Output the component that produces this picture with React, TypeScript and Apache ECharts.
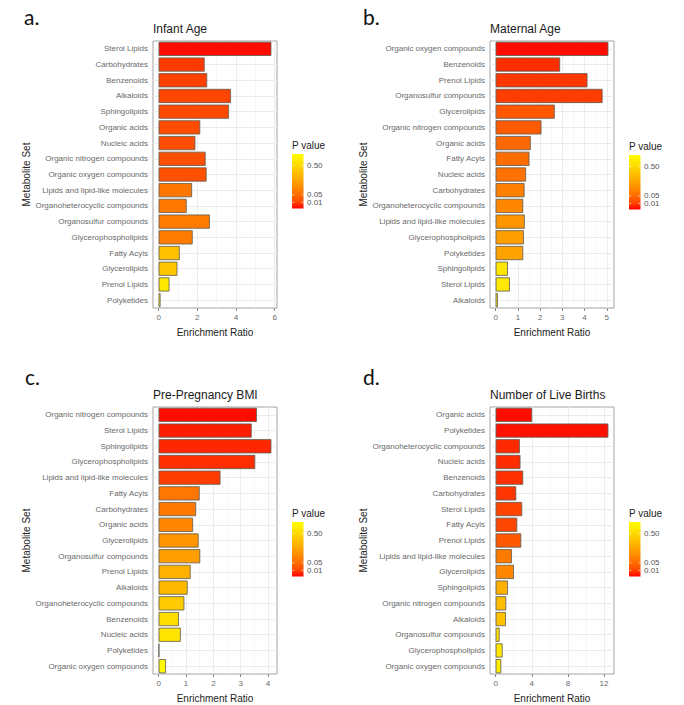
import React, { useEffect, useRef } from "react";
import * as echarts from "echarts";

// ---- Infant Age ----
const infantCats = [
  "Sterol Lipids", "Carbohydrates", "Benzenoids", "Alkaloids", "Sphingolipids",
  "Organic acids", "Nucleic acids", "Organic nitrogen compounds", "Organic oxygen compounds",
  "Lipids and lipid-like molecules", "Organoheterocyclic compounds", "Organosulfur compounds",
  "Glycerophospholipids", "Fatty Acyls", "Glycerolipids", "Prenol Lipids", "Polyketides",
];
const infantRatio = [5.83, 2.38, 2.51, 3.74, 3.64, 2.15, 1.9, 2.43, 2.48, 1.73, 1.45, 2.65, 1.76, 1.09, 0.97, 0.56, 0.1];
const infantP = [0.0003, 0.008, 0.0097, 0.0115, 0.0125, 0.0146, 0.0168, 0.018, 0.019, 0.072, 0.077, 0.082, 0.084, 0.348, 0.38, 0.62, 0.72];
const infantTicks = [0, 2, 4, 6];
const infantMinor = [1, 3, 5];

// ---- Maternal Age ----
const maternalCats = [
  "Organic oxygen compounds", "Benzenoids", "Prenol Lipids", "Organosulfur compounds", "Glycerolipids",
  "Organic nitrogen compounds", "Organic acids", "Fatty Acyls", "Nucleic acids", "Carbohydrates",
  "Organoheterocyclic compounds", "Lipids and lipid-like molecules", "Glycerophospholipids",
  "Polyketides", "Sphingolipids", "Sterol Lipids", "Alkaloids",
];
const maternalRatio = [5.07, 2.9, 4.13, 4.81, 2.66, 2.06, 1.58, 1.52, 1.37, 1.3, 1.24, 1.31, 1.27, 1.24, 0.55, 0.64, 0.1];
const maternalP = [0.0003, 0.005, 0.0072, 0.0088, 0.026, 0.029, 0.046, 0.054, 0.063, 0.092, 0.109, 0.155, 0.19, 0.21, 0.605, 0.62, 0.72];
const maternalTicks = [0, 1, 2, 3, 4, 5];
const maternalMinor = [0.5, 1.5, 2.5, 3.5, 4.5];

// ---- Pre-Pregnancy BMI ----
const bmiCats = [
  "Organic nitrogen compounds", "Sterol Lipids", "Sphingolipids", "Glycerophospholipids",
  "Lipids and lipid-like molecules", "Fatty Acyls", "Carbohydrates", "Organic acids", "Glycerolipids",
  "Organosulfur compounds", "Prenol Lipids", "Alkaloids", "Organoheterocyclic compounds",
  "Benzenoids", "Nucleic acids", "Polyketides", "Organic oxygen compounds",
];
const bmiRatio = [3.59, 3.4, 4.12, 3.53, 2.26, 1.5, 1.37, 1.26, 1.46, 1.52, 1.17, 1.06, 0.94, 0.74, 0.81, 0.02, 0.27];
const bmiP = [0.0003, 0.002, 0.0034, 0.005, 0.0088, 0.072, 0.077, 0.109, 0.155, 0.19, 0.27, 0.31, 0.41, 0.54, 0.58, 0.65, 0.75];
const bmiTicks = [0, 1, 2, 3, 4];
const bmiMinor = [0.5, 1.5, 2.5, 3.5];

// ---- Number of Live Births ----
const birthsCats = [
  "Organic acids", "Polyketides", "Organoheterocyclic compounds", "Nucleic acids", "Benzenoids",
  "Carbohydrates", "Sterol Lipids", "Fatty Acyls", "Prenol Lipids", "Lipids and lipid-like molecules",
  "Glycerolipids", "Sphingolipids", "Organic nitrogen compounds", "Alkaloids",
  "Organosulfur compounds", "Glycerophospholipids", "Organic oxygen compounds",
];
const birthsRatio = [4.04, 12.48, 2.68, 2.75, 3.05, 2.28, 2.94, 2.39, 2.83, 1.8, 2.02, 1.36, 1.17, 1.14, 0.44, 0.77, 0.62];
const birthsP = [0.0003, 0.0007, 0.0039, 0.0045, 0.0051, 0.0065, 0.0106, 0.0115, 0.026, 0.082, 0.109, 0.27, 0.33, 0.35, 0.56, 0.605, 0.65];
const birthsTicks = [0, 4, 8, 12];
const birthsMinor = [2, 6, 10];

// ---- P value colour bar ----
const legendTickValues = [0.5, 0.05, 0.01];
const legendTickLabels = ["0.50", "0.05", "0.01"];
const P_TOP = 0.8;
// red -> yellow, interpolated in Lab space
const P_COLORS = ["#ff0000", "#ff4900", "#ff6b00", "#ff8800", "#ffa100", "#ffba00", "#ffd100", "#ffe800", "#ffff00"];

const FONT = "'Liberation Sans', Arial, Helvetica, sans-serif";

const panels = [
  { title: "Infant Age", letter: "a.", cats: infantCats, ratio: infantRatio, p: infantP, ticks: infantTicks, minor: infantMinor,
    grid: { left: 153, top: 41, width: 124, height: 267 }, letterPos: [24, 27], legX: 292, legTop: 154 },
  { title: "Maternal Age", letter: "b.", cats: maternalCats, ratio: maternalRatio, p: maternalP, ticks: maternalTicks, minor: maternalMinor,
    grid: { left: 490, top: 41, width: 124, height: 267 }, letterPos: [363, 27], legX: 629, legTop: 155 },
  { title: "Pre-Pregnancy BMI", letter: "c.", cats: bmiCats, ratio: bmiRatio, p: bmiP, ticks: bmiTicks, minor: bmiMinor,
    grid: { left: 153, top: 407, width: 124, height: 267 }, letterPos: [25, 387], legX: 292, legTop: 522 },
  { title: "Number of Live Births", letter: "d.", cats: birthsCats, ratio: birthsRatio, p: birthsP, ticks: birthsTicks, minor: birthsMinor,
    grid: { left: 490, top: 407, width: 124, height: 267 }, letterPos: [363, 387], legX: 629, legTop: 522 },
];

const LEG_W = 11.5;
const LEG_H = 54.5;

function buildOption() {
  const grids: any[] = [];
  const xAxes: any[] = [];
  const yAxes: any[] = [];
  const series: any[] = [];
  const graphics: any[] = [];

  panels.forEach((pn, i) => {
    const maxV = Math.max(...pn.ratio);
    grids.push({
      ...pn.grid,
      show: true,
      backgroundColor: "#ffffff",
      borderColor: "#a3a3a3",
      borderWidth: 1,
    });
    xAxes.push({
      type: "value",
      gridIndex: i,
      min: -0.05 * maxV,
      max: 1.05 * maxV,
      axisLine: { show: false },
      splitLine: { show: false },
      axisTick: { show: true, customValues: pn.ticks, length: 3, lineStyle: { color: "#8a8a8a", width: 1 } },
      axisLabel: { customValues: pn.ticks, fontSize: 8, color: "#6a6a6a", margin: 5, fontFamily: FONT },
      name: "Enrichment Ratio",
      nameLocation: "middle",
      nameGap: 19,
      nameTextStyle: { fontSize: 10, color: "#222", fontFamily: FONT },
    });
    yAxes.push({
      type: "category",
      gridIndex: i,
      data: pn.cats,
      inverse: true,
      axisLine: { show: false },
      splitLine: { show: false },
      axisTick: { show: true, alignWithLabel: true, length: 3, lineStyle: { color: "#8a8a8a", width: 1 } },
      axisLabel: { interval: 0, fontSize: 8, color: "#6a6a6a", margin: 5, fontFamily: FONT },
      name: "Metabolite Set",
      nameLocation: "middle",
      nameGap: 122,
      nameTextStyle: { fontSize: 10, color: "#222", fontFamily: FONT },
    });
    series.push({
      type: "bar",
      xAxisIndex: i,
      yAxisIndex: i,
      z: 3,
      barWidth: "90%",
      encode: { x: 0, y: 1 },
      data: pn.cats.map((c, k) => [pn.ratio[k], c, Math.sqrt(pn.p[k])]),
      itemStyle: { borderColor: "#5e5a50", borderWidth: 0.8 },
      emphasis: { disabled: true },
      markLine: {
        silent: true,
        z: 1,
        symbol: ["none", "none"],
        label: { show: false },
        emphasis: { disabled: true },
        lineStyle: { color: "#ececec", width: 1, type: "solid" },
        data: [
          ...pn.ticks.map((v) => ({ xAxis: v })),
          ...pn.minor.map((v) => ({ xAxis: v, lineStyle: { color: "#f2f2f2", width: 0.6, type: "solid" } })),
          ...pn.cats.map((c) => ({ yAxis: c })),
        ],
      },
    });

    // panel letter and title
    graphics.push({
      type: "text",
      x: pn.letterPos[0],
      y: pn.letterPos[1],
      style: { text: pn.letter, fontSize: 21, fontFamily: "Lato, 'Open Sans', sans-serif", fill: "#111", verticalAlign: "bottom" },
    });
    graphics.push({
      type: "text",
      x: pn.grid.left,
      y: pn.grid.top - 12,
      style: { text: pn.title, fontSize: 12, fontFamily: FONT, fill: "#1a1a1a", verticalAlign: "middle" },
    });

    // P value colour bar
    graphics.push({
      type: "text",
      x: pn.legX,
      y: pn.legTop - 8.5,
      style: { text: "P value", fontSize: 10, fontFamily: FONT, fill: "#222", verticalAlign: "middle" },
    });
    graphics.push({
      type: "rect",
      shape: { x: pn.legX, y: pn.legTop, width: LEG_W, height: LEG_H },
      style: {
        fill: {
          type: "linear", x: 0, y: 1, x2: 0, y2: 0,
          colorStops: P_COLORS.map((c, k) => ({ offset: k / (P_COLORS.length - 1), color: c })),
        },
      },
    });
    legendTickValues.forEach((v, k) => {
      const y = pn.legTop + LEG_H - (Math.sqrt(v) / Math.sqrt(P_TOP)) * LEG_H;
      graphics.push({
        type: "line",
        shape: { x1: pn.legX, y1: y, x2: pn.legX + 2.3, y2: y },
        style: { stroke: "#ffffff", lineWidth: 0.6 },
      });
      graphics.push({
        type: "line",
        shape: { x1: pn.legX + LEG_W - 2.3, y1: y, x2: pn.legX + LEG_W, y2: y },
        style: { stroke: "#ffffff", lineWidth: 0.6 },
      });
      graphics.push({
        type: "text",
        x: pn.legX + LEG_W + 3.5,
        y,
        style: { text: legendTickLabels[k], fontSize: 8, fontFamily: FONT, fill: "#555", verticalAlign: "middle" },
      });
    });
  });

  return {
    animation: false,
    backgroundColor: "#ffffff",
    grid: grids,
    xAxis: xAxes,
    yAxis: yAxes,
    visualMap: {
      type: "continuous",
      show: false,
      min: 0,
      max: Math.sqrt(P_TOP),
      dimension: 2,
      seriesIndex: [0, 1, 2, 3],
      inRange: { color: P_COLORS },
    },
    series,
    graphic: graphics,
  };
}

export default function App() {
  const ref = useRef<HTMLDivElement>(null);
  useEffect(() => {
    document.body.style.margin = "0";
    if (!ref.current) return;
    const chart = echarts.init(ref.current, undefined, { renderer: "svg" });
    chart.setOption(buildOption() as any);
    return () => chart.dispose();
  }, []);
  return <div ref={ref} style={{ width: 684, height: 705, background: "#fff" }} />;
}
